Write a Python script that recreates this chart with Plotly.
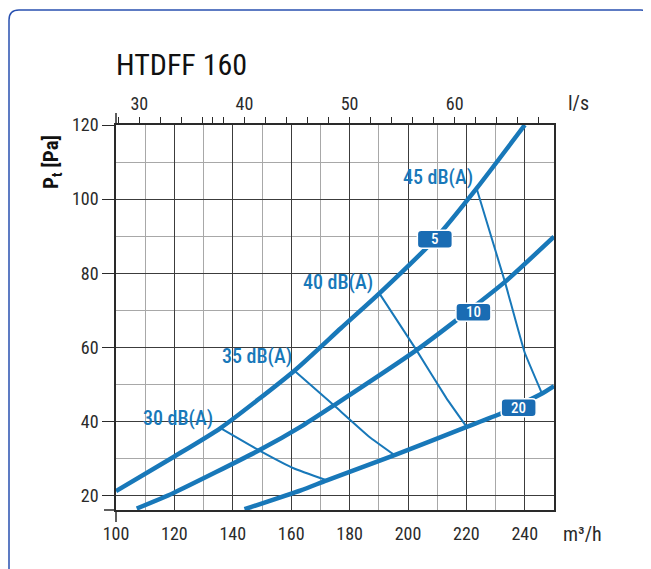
import plotly.graph_objects as go

# ---------------- data ----------------
curve5_x = [100, 119.7, 135.8, 161, 177, 190.2, 209.2, 223.5, 240]
curve5_y = [21.3, 30.5, 38.3, 53.7, 65.2, 74.6, 89.2, 102.9, 120]
curve10_x = [107.1, 119.7, 149, 164.2, 174.8, 202.9, 216.6, 233.2, 250]
curve10_y = [16.6, 20.8, 32.3, 39.1, 44.5, 59.3, 67.4, 77.7, 89.9]
curve20_x = [144, 163.3, 172.2, 195.4, 220.1, 231.8, 245.9, 250]
curve20_y = [16.4, 21.5, 24.2, 31.0, 38.6, 42.2, 47.6, 49.6]

iso30_x = [135.8, 149, 161, 172.2]
iso30_y = [38.3, 32.3, 27.4, 24.2]
iso35_x = [161.2, 174.8, 186.8, 195.4]
iso35_y = [53.7, 44.3, 35.9, 31.0]
iso40_x = [190.2, 202.9, 213.2, 220.1]
iso40_y = [74.6, 59.3, 46.3, 38.6]
iso45_x = [223.5, 233.2, 239.9, 245.9]
iso45_y = [102.9, 77.7, 58.8, 47.6]

db_labels = ["30 dB(A)", "35 dB(A)", "40 dB(A)", "45 dB(A)"]
db_label_x = [121.1, 148.4, 176.0, 210.3]
db_label_y = [40.9, 57.7, 77.7, 106.0]

box_labels = ["5", "10", "20"]
box_x = [209.2, 222.4, 237.9]
box_y = [89.2, 69.5, 43.8]

x_ticks = [100, 120, 140, 160, 180, 200, 220, 240]
y_ticks = [20, 40, 60, 80, 100, 120]
ls_ticks = [30, 40, 50, 60]
ls_minor_ticks = [28, 32, 34, 36, 37, 38, 42, 44, 46, 48, 52, 54, 56, 58, 62, 64, 66, 68]

# ---------------- style ----------------
FONT = "Roboto Condensed, Roboto, Liberation Sans Narrow, sans-serif"
BLUE = "#1878b9"
BOX = "#1a6cb3"
DARK = "#2a2a2a"
OFF = 8                      # page body margin
W, H = 651 - OFF, 569 - OFF
ML, MT = 116 - OFF, 125 - OFF
PW, PH = 438, 385
MR, MB = W - ML - PW, H - MT - PH


def px(xp):
    return (xp - OFF - ML) / PW


def py(yp):
    return (MT + PH - (yp - OFF)) / PH


fig = go.Figure()

for cx, cy in [(curve5_x, curve5_y), (curve10_x, curve10_y), (curve20_x, curve20_y)]:
    fig.add_trace(go.Scatter(x=cx, y=cy, mode="lines",
                             line=dict(color=BLUE, width=4.5, shape="spline", smoothing=0.6),
                             hoverinfo="skip", showlegend=False))
for cx, cy in [(iso30_x, iso30_y), (iso35_x, iso35_y), (iso40_x, iso40_y), (iso45_x, iso45_y)]:
    fig.add_trace(go.Scatter(x=cx, y=cy, mode="lines",
                             line=dict(color=BLUE, width=2, shape="spline", smoothing=0.3),
                             hoverinfo="skip", showlegend=False))

# top axis in l/s (invisible trace to activate it)
fig.add_trace(go.Scatter(x=[30], y=[50], xaxis="x2", mode="markers",
                         marker=dict(opacity=0), hoverinfo="skip", showlegend=False))

fig.update_layout(
    width=W, height=H,
    margin=dict(l=ML, r=MR, t=MT, b=MB),
    paper_bgcolor="white", plot_bgcolor="white",
    font=dict(family=FONT, color=DARK),
    xaxis=dict(range=[100, 250], tickvals=x_ticks, ticks="", showline=True, linecolor=DARK,
               linewidth=1.5, mirror=True, showgrid=True, gridcolor="#3c3c3c", gridwidth=1,
               minor=dict(dtick=10, tick0=0, showgrid=True, gridcolor="#a8a8a8", gridwidth=1),
               tickfont=dict(size=18, color=DARK), ticklabelstandoff=7, zeroline=False),
    yaxis=dict(range=[16.2, 120], tickvals=y_ticks, ticks="outside", ticklen=12,
               tickcolor=DARK, tickwidth=1, showline=True, linecolor=DARK, linewidth=1.5,
               mirror=True, showgrid=True, gridcolor="#3c3c3c", gridwidth=1,
               minor=dict(dtick=10, tick0=0, showgrid=True, gridcolor="#a8a8a8", gridwidth=1),
               tickfont=dict(size=18, color=DARK), zeroline=False),
    xaxis2=dict(range=[100 / 3.6, 250 / 3.6], overlaying="x", side="top", anchor="y",
                tickvals=ls_ticks, ticks="outside", ticklen=7,
                tickcolor=DARK, showgrid=False, showline=False, zeroline=False,
                minor=dict(tickvals=ls_minor_ticks, ticks="outside", ticklen=7,
                           tickcolor=DARK, showgrid=False),
                tickfont=dict(size=18, color=DARK)),
)

shapes = []


def P(a, b):
    return f"{px(a):.5f},{py(b):.5f}"


frame = (f"M {P(9, 20)} Q {P(9, 10)} {P(19, 10)} L {P(641, 10)} Q {P(650, 10)} {P(650, 20)} "
         f"L {P(650, 620)} L {P(9, 620)} Z")
shapes.append(dict(type="path", xref="paper", yref="paper", path=frame,
                   line=dict(color="#2850b0", width=1.5), layer="below"))
# axis extensions
shapes.append(dict(type="line", xref="paper", yref="paper", ysizemode="pixel", yanchor=0,
                   x0=0, x1=0, y0=-12, y1=0, line=dict(color=DARK, width=1.5)))
shapes.append(dict(type="line", xref="paper", yref="paper", ysizemode="pixel", yanchor=1,
                   x0=0, x1=0, y0=0, y1=12, line=dict(color=DARK, width=1.5)))
shapes.append(dict(type="line", xref="paper", yref="paper", xsizemode="pixel", xanchor=0,
                   x0=-12, x1=0, y0=0, y1=0, line=dict(color=DARK, width=1.5)))
# rounded boxes
bw, bh, r = 17.5, 9, 4
box_path = (f"M {-bw},{-bh + r} L {-bw},{bh - r} Q {-bw},{bh} {-bw + r},{bh} "
            f"L {bw - r},{bh} Q {bw},{bh} {bw},{bh - r} L {bw},{-bh + r} "
            f"Q {bw},{-bh} {bw - r},{-bh} L {-bw + r},{-bh} Q {-bw},{-bh} {-bw},{-bh + r} Z")
for bx, by in zip(box_x, box_y):
    shapes.append(dict(type="path", xref="x", yref="y", xsizemode="pixel", ysizemode="pixel",
                       xanchor=bx, yanchor=by, path=box_path, fillcolor=BOX,
                       line=dict(color="white", width=1.5)))
fig.update_layout(shapes=shapes)

ann = []
for t, x, y in zip(db_labels, db_label_x, db_label_y):
    ann.append(dict(text=t, x=x, y=y, xref="x", yref="y", showarrow=False,
                    font=dict(size=20, color=BLUE, family=FONT, weight=500)))
for t, x, y in zip(box_labels, box_x, box_y):
    ann.append(dict(text=t, x=x, y=y, xref="x", yref="y", showarrow=False,
                    font=dict(size=15, color="white", family=FONT, weight=500)))
ann.append(dict(text="HTDFF 160", xref="paper", yref="paper", x=px(114), y=py(65),
                xanchor="left", yanchor="middle", showarrow=False,
                font=dict(size=30, color="#111111", family=FONT)))
ann.append(dict(text="P<sub>t</sub> [Pa]", xref="paper", yref="paper", x=px(52), y=py(162),
                xanchor="center", yanchor="middle", textangle=-90, showarrow=False,
                font=dict(size=21, color="#111111", family=FONT, weight="bold")))
ann.append(dict(text="l/s", xref="paper", yref="paper", x=px(578), y=py(103),
                xanchor="center", yanchor="middle", showarrow=False,
                font=dict(size=20, color=DARK, family=FONT)))
ann.append(dict(text="m³/h", xref="paper", yref="paper", x=px(582), y=py(534),
                xanchor="center", yanchor="middle", showarrow=False,
                font=dict(size=20, color=DARK, family=FONT)))
fig.update_layout(annotations=ann)

fig.write_html("out.html")
